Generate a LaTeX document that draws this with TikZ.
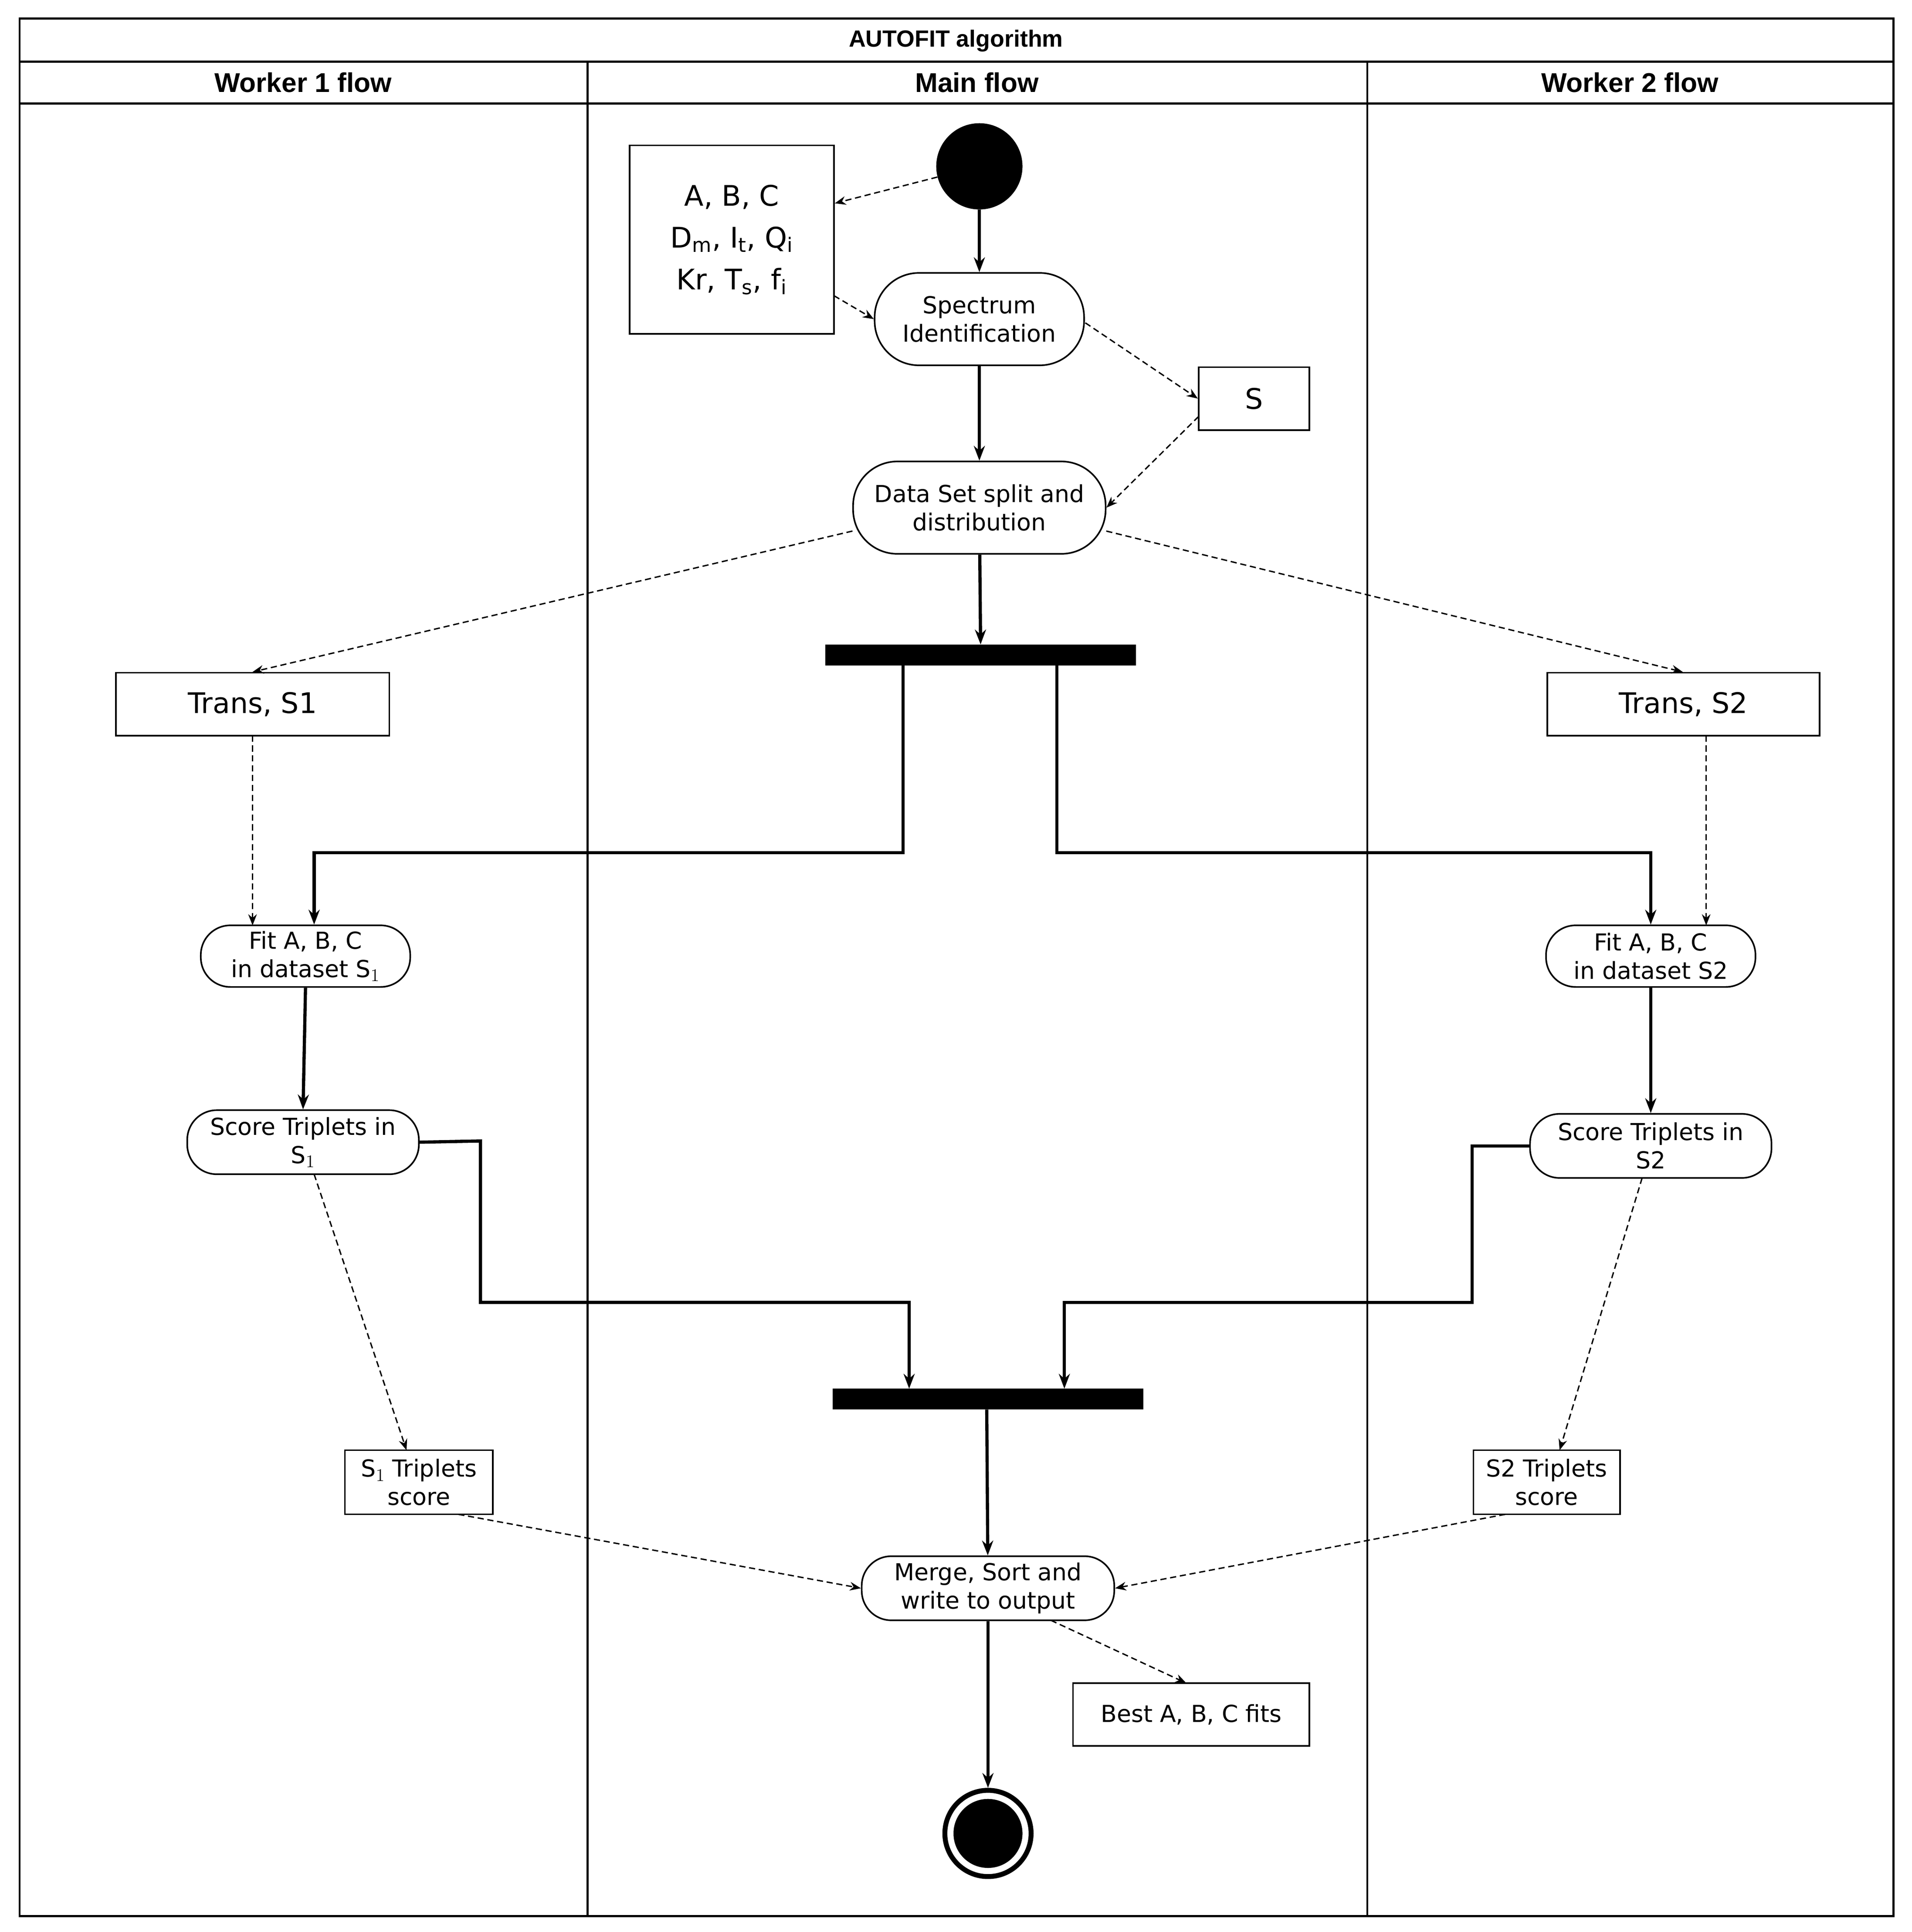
\documentclass[tikz,border=0pt]{standalone}
\usepackage{fontspec}
\setmainfont{DejaVu Sans}
\newfontfamily\hdr{Liberation Sans}
\usetikzlibrary{arrows.meta}
\begin{document}
\begin{tikzpicture}[x=1pt,y=-1pt,
 frame/.style={line width=1.6pt},
 act/.style={draw,line width=1.3pt,rounded corners=24pt,align=center,font=\fontsize{19}{23}\selectfont,inner sep=2pt},
 obj/.style={draw,line width=1.3pt,align=center,font=\fontsize{19}{23}\selectfont,inner sep=2pt},
 flow/.style={line width=2.6pt,-{Stealth[length=12pt,width=9pt]}},
 dat/.style={line width=1.1pt,dash pattern=on 5pt off 3pt,-{Stealth[length=9pt,width=7pt]}},
 bar/.style={fill=black,draw=none}]
\useasboundingbox (0,0) rectangle (1552,1568);
\fill[white] (0,0) rectangle (1552,1568);
% frame
\draw[frame] (16,15) rectangle (1537,1555);
\draw[frame] (16,50) -- (1537,50);
\draw[frame] (16,84) -- (1537,84);
\draw[frame] (477,50) -- (477,1555);
\draw[frame] (1110,50) -- (1110,1555);
\node[font=\hdr\bfseries\fontsize{19}{22}\selectfont] (title) at (776,33) {AUTOFIT algorithm};
\node[font=\hdr\bfseries\fontsize{22}{26}\selectfont] (h1) at (246,67) {Worker 1 flow};
\node[font=\hdr\bfseries\fontsize{22}{26}\selectfont] (h2) at (793,67) {Main flow};
\node[font=\hdr\bfseries\fontsize{22}{26}\selectfont] (h3) at (1323,67) {Worker 2 flow};
% nodes
\node[circle,fill=black,minimum size=70pt,inner sep=0] (start) at (795,135) {};
\node[obj,minimum width=166pt,minimum height=153pt,font=\fontsize{23}{34}\selectfont] (par) at (594,194.5)
 {A, B, C\\D$_{\mathrm{m}}$, I$_{\mathrm{t}}$, Q$_{\mathrm{i}}$\\Kr, T$_{\mathrm{s}}$, f$_{\mathrm{i}}$};
\node[act,minimum width=170pt,minimum height=75pt,rounded corners=36pt] (spec) at (795,259) {Spectrum\\Identification};
\node[obj,minimum width=90pt,minimum height=51pt,font=\fontsize{23}{28}\selectfont] (S) at (1018,323.5) {S};
\node[act,minimum width=205pt,minimum height=75pt,rounded corners=36pt] (split) at (795,412) {Data Set split and\\distribution};
\path[bar] (670,523) rectangle (922,540);
\coordinate (fork) at (796,523);
\coordinate (forkL) at (733,540);
\coordinate (forkR) at (858,540);
\node[obj,minimum width=222pt,minimum height=51pt,font=\fontsize{23}{28}\selectfont] (t1) at (205,571.5) {Trans, S1};
\node[obj,minimum width=221pt,minimum height=51pt,font=\fontsize{23}{28}\selectfont] (t2) at (1366.5,571.5) {Trans, S2};
\node[act,minimum width=170pt,minimum height=50pt] (fit1) at (248,776) {Fit A, B, C\\in dataset S$_1$};
\node[act,minimum width=170pt,minimum height=50pt] (fit2) at (1340,776) {Fit A, B, C\\in dataset S2};
\node[act,minimum width=188pt,minimum height=52pt] (sc1) at (246,927) {Score Triplets in\\S$_1$};
\node[act,minimum width=196pt,minimum height=52pt] (sc2) at (1340,930) {Score Triplets in\\S2};
\path[bar] (676,1127) rectangle (928,1144);
\coordinate (joinL) at (738,1127);
\coordinate (joinR) at (864,1127);
\coordinate (joinB) at (801,1144);
\node[obj,minimum width=120pt,minimum height=52pt] (ts1) at (340,1203) {S$_1$ Triplets\\score};
\node[obj,minimum width=119pt,minimum height=52pt] (ts2) at (1255.5,1203) {S2 Triplets\\score};
\node[act,minimum width=205pt,minimum height=52pt] (merge) at (802,1289) {Merge, Sort and\\write to output};
\node[obj,minimum width=192pt,minimum height=51pt] (best) at (967,1391.5) {Best A, B, C fits};
\node[circle,draw,line width=4pt,minimum size=70pt,inner sep=0] (endo) at (802,1488) {};
\node[circle,fill=black,minimum size=56pt,inner sep=0] (endi) at (802,1488) {};
% flows
\draw[flow] (start) -- (spec);
\draw[flow] (spec) -- (split);
\draw[flow] (split) -- (fork);
\draw[flow] (forkL) -- (733,692) -- (255,692) -- (fit1.north -| 255,0);
\draw[flow] (forkR) -- (858,692) -- (1340,692) -- (fit2.north);
\draw[flow] (fit1.south) -- (sc1.north);
\draw[flow] (fit2) -- (sc2);
\draw[flow] (sc1.east) -- (390,926) -- (390,1057) -- (738,1057) -- (joinL);
\draw[flow] (sc2.west) -- (1195,930) -- (1195,1057) -- (864,1057) -- (joinR);
\draw[flow] (joinB) -- (merge);
\draw[flow] (merge) -- (endo);
% data
\draw[dat] (start) -- (par.east |- 0,165);
\draw[dat] (677,240) -- (spec.west);
\draw[dat] (881,262) -- (S.west);
\draw[dat] (973,338) -- (split.east);
\draw[dat] (692,431) -- (t1.north);
\draw[dat] (898,431) -- (t2.north -| 1366,0);
\draw[dat] (205,597) -- (205,751);
\draw[dat] (1385,597) -- (1385,751);
\draw[dat] (255,953) -- (330,1177);
\draw[dat] (1333,956) -- (1266,1177);
\draw[dat] (372,1229) -- (merge.west);
\draw[dat] (1222,1229) -- (merge.east);
\draw[dat] (853,1315) -- (963,1366);
\end{tikzpicture}
\end{document}
